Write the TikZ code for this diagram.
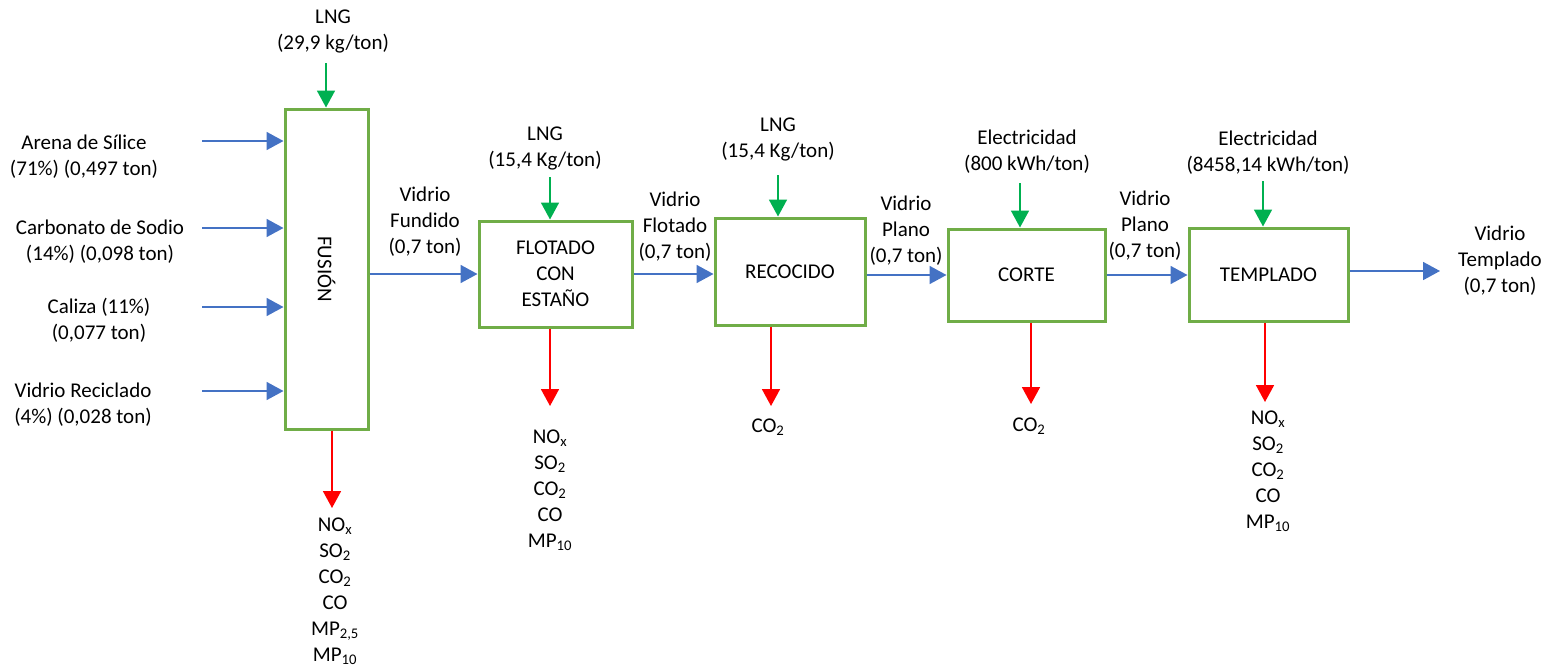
\documentclass[tikz,border=0pt]{standalone}
\definecolor{flowblue}{RGB}{68,114,196}
\definecolor{fuelgreen}{RGB}{0,176,80}
\definecolor{boxgreen}{RGB}{112,173,71}
\definecolor{emitred}{RGB}{255,0,0}
\usepackage{fontspec}
\setmainfont{Carlito}
\usepackage{tikz}
\usetikzlibrary{arrows.meta}

\begin{document}
\begin{tikzpicture}[x=1pt, y=-1pt,
    font=\fontsize{21}{26}\selectfont,
    proc/.style={draw=boxgreen, line width=3pt, inner sep=0pt, align=center},
    lbl/.style={align=center, inner sep=0pt},
    flow/.style={flowblue, line width=1.8pt, -{Triangle[length=17pt,width=18pt]}},
    fuel/.style={fuelgreen, line width=1.8pt, -{Triangle[length=17pt,width=18pt]}},
    emis/.style={emitred, line width=1.8pt, -{Triangle[length=17pt,width=18pt]}}]

\useasboundingbox (0,0) rectangle (1561,667);

% Process boxes
\node[proc, minimum width=83pt, minimum height=320pt] (fusion)   at (326.5,269) {\rotatebox{-90}{FUSIÓN}};
\node[proc, minimum width=153pt, minimum height=106pt] (flotado) at (555.5,274) {FLOTADO\\CON\\ESTAÑO};
\node[proc, minimum width=150pt, minimum height=107pt] (recocido) at (790,271.5) {RECOCIDO};
\node[proc, minimum width=157pt, minimum height=92pt]  (corte)    at (1026.5,275) {CORTE};
\node[proc, minimum width=159pt, minimum height=93pt]  (templado) at (1268.5,274.5) {TEMPLADO};

% Raw materials into the furnace
\node[lbl] (arena)     at (84,156.5)  {Arena de Sílice\\(71\%) (0,497 ton)};
\node[lbl] (carbonato) at (100,242)   {Carbonato de Sodio\\(14\%) (0,098 ton)};
\node[lbl] (caliza)    at (99,320.5)  {Caliza (11\%)\\(0,077 ton)};
\node[lbl] (reciclado) at (83,404.5)  {Vidrio Reciclado\\(4\%) (0,028 ton)};
\coordinate (inA) at (202,141);
\coordinate (inB) at (202,228);
\coordinate (inC) at (202,307);
\coordinate (inD) at (202,391);
\draw[flow] (inA) -- (inA -| fusion.west);
\draw[flow] (inB) -- (inB -| fusion.west);
\draw[flow] (inC) -- (inC -| fusion.west);
\draw[flow] (inD) -- (inD -| fusion.west);

% Main glass line
\node[lbl] (fundido)  at (425,222)   {Vidrio\\Fundido\\(0,7 ton)};
\node[lbl] (flotadoV) at (675,226.5) {Vidrio\\Flotado\\(0,7 ton)};
\node[lbl] (plano1)   at (906,231)   {Vidrio\\Plano\\(0,7 ton)};
\node[lbl] (plano2)   at (1145,226)  {Vidrio\\Plano\\(0,7 ton)};
\node[lbl] (final)    at (1500,261)  {Vidrio\\Templado\\(0,7 ton)};
\coordinate (out) at (1440,271);
\draw[flow] (fusion.east |- flotado.west) -- (flotado.west);
\draw[flow] (flotado.east) -- (flotado.east -| recocido.west);
\draw[flow] (recocido.east |- corte.west) -- (corte.west);
\draw[flow] (corte.east) -- (corte.east -| templado.west);
\draw[flow] (templado.east |- out) -- (out);

% Energy inputs
\node[lbl] (lng1)  at (333,31.5)  {LNG\\(29,9 kg/ton)};
\node[lbl] (lng2)  at (545,148)   {LNG\\(15,4 Kg/ton)};
\node[lbl] (lng3)  at (778,139.5) {LNG\\(15,4 Kg/ton)};
\node[lbl] (elec1) at (1027,152)  {Electricidad\\(800 kWh/ton)};
\node[lbl] (elec2) at (1268,152.5) {Electricidad\\(8458,14 kWh/ton)};
\coordinate (fA) at (326,63);
\coordinate (fB) at (550,177);
\coordinate (fC) at (778,175);
\coordinate (fD) at (1020,183);
\coordinate (fE) at (1263,181);
\draw[fuel] (fA) -- (fA |- fusion.north);
\draw[fuel] (fB) -- (fB |- flotado.north);
\draw[fuel] (fC) -- (fC |- recocido.north);
\draw[fuel] (fD) -- (fD |- corte.north);
\draw[fuel] (fE) -- (fE |- templado.north);

% Emissions
\node[lbl] (gas1) at (335,591)   {NO\textsubscript{x}\\SO\textsubscript{2}\\CO\textsubscript{2}\\CO\\MP\textsubscript{2,5}\\MP\textsubscript{10}};
\node[lbl] (gas2) at (550,490.5) {NO\textsubscript{x}\\SO\textsubscript{2}\\CO\textsubscript{2}\\CO\\MP\textsubscript{10}};
\node[lbl] (gas3) at (768,427)   {CO\textsubscript{2}};
\node[lbl] (gas4) at (1029,426)  {CO\textsubscript{2}};
\node[lbl] (gas5) at (1268,471)  {NO\textsubscript{x}\\SO\textsubscript{2}\\CO\textsubscript{2}\\CO\\MP\textsubscript{10}};
\coordinate (eA) at (332,508);
\coordinate (eB) at (550,406);
\coordinate (eC) at (771,406);
\coordinate (eD) at (1031,404);
\coordinate (eE) at (1265,402);
\draw[emis] (eA |- fusion.south) -- (eA);
\draw[emis] (eB |- flotado.south) -- (eB);
\draw[emis] (eC |- recocido.south) -- (eC);
\draw[emis] (eD |- corte.south) -- (eD);
\draw[emis] (eE |- templado.south) -- (eE);

\end{tikzpicture}
\end{document}
